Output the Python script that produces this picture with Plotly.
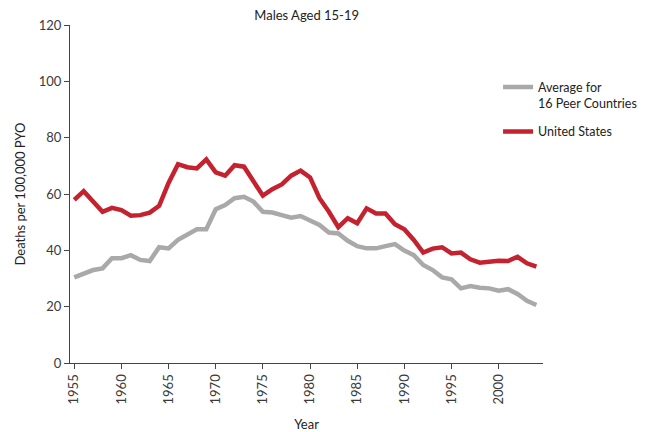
import plotly.graph_objects as go

years = list(range(1955, 2005))

peer_avg = [30.4, 31.6, 33.0, 33.6, 37.2, 37.2, 38.3, 36.6, 36.2, 41.1,
            40.7, 43.7, 45.7, 47.5, 47.5, 54.6, 56.1, 58.5, 59.0, 57.3,
            53.7, 53.4, 52.5, 51.6, 52.2, 50.5, 49.0, 46.3, 46.0, 43.4,
            41.5, 40.7, 40.7, 41.5, 42.2, 39.9, 38.3, 34.8, 33.0, 30.4,
            29.7, 26.5, 27.3, 26.7, 26.5, 25.7, 26.2, 24.5, 22.1, 20.6]

united_states = [57.9, 61.0, 57.3, 53.7, 55.1, 54.3, 52.3, 52.5, 53.4, 55.8,
                 63.9, 70.6, 69.5, 69.1, 72.3, 67.7, 66.5, 70.2, 69.7, 64.8,
                 59.4, 61.7, 63.4, 66.5, 68.3, 65.9, 58.5, 53.7, 48.2, 51.4,
                 49.6, 54.9, 53.1, 53.1, 49.3, 47.5, 43.7, 39.2, 40.6, 41.1,
                 38.9, 39.2, 36.8, 35.6, 36.0, 36.3, 36.2, 37.7, 35.4, 34.2]

x_ticks = list(range(1955, 2001, 5))
y_ticks = [0, 20, 40, 60, 80, 100, 120]

FONT = "Lato, Open Sans, sans-serif"
TEXT = "#3a3a3a"

fig = go.Figure()
fig.add_trace(go.Scatter(
    x=years, y=peer_avg, mode="lines",
    name="Average for<br>16 Peer Countries", legendgroup="peer",
    line=dict(color="#a9a9a9", width=4.5),
))
fig.add_trace(go.Scatter(
    x=years, y=united_states, mode="lines",
    name="United States", legendgroup="us",
    line=dict(color="#c4222e", width=4.5),
))

fig.update_layout(
    width=647, height=432,
    margin=dict(l=70, r=104, t=25, b=69, autoexpand=False),
    paper_bgcolor="white", plot_bgcolor="white",
    font=dict(family=FONT, size=12, color=TEXT),
    title=dict(text="Males Aged 15-19", x=0.474, xanchor="center",
               y=0.965, yanchor="middle", font=dict(size=13, color="#222")),
    legend=dict(x=0.905, y=0.86, xanchor="left", yanchor="top",
                valign="top", tracegroupgap=9,
                font=dict(size=12.5, color="#222"),
                bgcolor="rgba(0,0,0,0)"),
    showlegend=True,
)

fig.update_xaxes(
    range=[1954.55, 2004.7], tickvals=x_ticks,
    ticktext=[str(t) for t in x_ticks], tickangle=-90,
    showline=True, linecolor="#444", linewidth=1.2,
    ticks="outside", ticklen=5, tickcolor="#444",
    showgrid=False, zeroline=False, automargin=False,
    tickfont=dict(size=13, color=TEXT),
    title=dict(text="Year", font=dict(size=13, color="#222"), standoff=16),
)
fig.update_yaxes(
    range=[0, 120], tickvals=y_ticks,
    showline=True, linecolor="#444", linewidth=1.2,
    ticks="outside", ticklen=5, tickcolor="#444",
    showgrid=False, zeroline=False, automargin=False,
    tickfont=dict(size=13, color=TEXT),
    title=dict(text="Deaths per 100,000 PYO", font=dict(size=13, color="#222"),
               standoff=10),
)

fig.write_html("out.html")
